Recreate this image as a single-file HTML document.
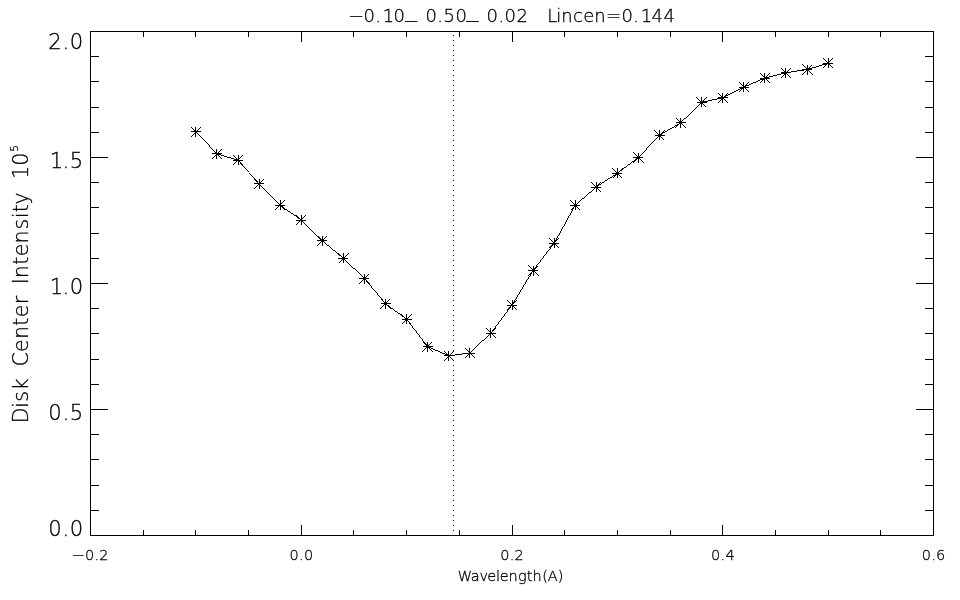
<!DOCTYPE html>
<html lang="en"><head><meta charset="utf-8"><title>Disk Center Intensity</title>
<style>html,body{margin:0;padding:0;background:#fff}body{width:960px;height:600px;overflow:hidden}#w{width:960px;height:600px;will-change:transform}svg{display:block}text{font-family:"DejaVu Sans Light","DejaVu Sans","Liberation Sans",sans-serif;font-weight:200;fill:#000;stroke:#000;stroke-width:.3px;text-anchor:middle;white-space:pre}.fl{fill:#000;stroke:none;shape-rendering:crispEdges}.ln{stroke:#000;stroke-width:1;fill:none;shape-rendering:crispEdges}</style></head><body><div id="w">
<svg width="960" height="600" viewBox="0 0 960 600">
<rect class="ln" x="90.5" y="31.5" width="843" height="504"/>
<path class="ln" d="M90.5 536 v-11 M90.5 31 v11 M143.5 536 v-6 M143.5 31 v6 M195.5 536 v-6 M195.5 31 v6 M248.5 536 v-6 M248.5 31 v6 M301.5 536 v-11 M301.5 31 v11 M353.5 536 v-6 M353.5 31 v6 M406.5 536 v-6 M406.5 31 v6 M459.5 536 v-6 M459.5 31 v6 M512.5 536 v-11 M512.5 31 v11 M564.5 536 v-6 M564.5 31 v6 M617.5 536 v-6 M617.5 31 v6 M670.5 536 v-6 M670.5 31 v6 M722.5 536 v-11 M722.5 31 v11 M775.5 536 v-6 M775.5 31 v6 M828.5 536 v-6 M828.5 31 v6 M880.5 536 v-6 M880.5 31 v6 M933.5 536 v-11 M933.5 31 v11 M90 31.5 h18 M934 31.5 h-18 M90 56.5 h9 M934 56.5 h-9 M90 81.5 h9 M934 81.5 h-9 M90 107.5 h9 M934 107.5 h-9 M90 132.5 h9 M934 132.5 h-9 M90 157.5 h18 M934 157.5 h-18 M90 182.5 h9 M934 182.5 h-9 M90 207.5 h9 M934 207.5 h-9 M90 233.5 h9 M934 233.5 h-9 M90 258.5 h9 M934 258.5 h-9 M90 283.5 h18 M934 283.5 h-18 M90 308.5 h9 M934 308.5 h-9 M90 333.5 h9 M934 333.5 h-9 M90 359.5 h9 M934 359.5 h-9 M90 384.5 h9 M934 384.5 h-9 M90 409.5 h18 M934 409.5 h-18 M90 434.5 h9 M934 434.5 h-9 M90 459.5 h9 M934 459.5 h-9 M90 485.5 h9 M934 485.5 h-9 M90 510.5 h9 M934 510.5 h-9 M90 535.5 h18 M934 535.5 h-18"/>
<path class="ln" stroke-dasharray="1 4" d="M453.5 536 V31"/>
<path class="fl" d="M196.38 131.70L217.45 153.80L216.45 153.80L195.38 131.70ZM216.95 153.30L238.03 159.70L238.03 160.70L216.95 154.30ZM238.53 160.20L259.60 183.80L258.60 183.80L237.53 160.20ZM259.60 183.80L280.67 205.30L279.67 205.30L258.60 183.80ZM280.17 204.80L301.25 219.50L301.25 220.50L280.17 205.80ZM301.25 219.50L322.32 240.30L322.32 241.30L301.25 220.50ZM322.32 240.30L343.40 257.80L343.40 258.80L322.32 241.30ZM343.40 257.80L364.48 278.00L364.48 279.00L343.40 258.80ZM364.98 278.50L386.05 303.70L385.05 303.70L363.98 278.50ZM385.55 303.20L406.63 318.70L406.63 319.70L385.55 304.20ZM407.13 319.20L428.20 346.70L427.20 346.70L406.13 319.20ZM427.70 346.20L448.77 355.30L448.77 356.30L427.70 347.20ZM448.77 355.30L469.85 352.50L469.85 353.50L448.77 356.30ZM469.85 352.50L490.92 332.50L490.92 333.50L469.85 353.50ZM490.42 333.00L511.50 305.20L512.50 305.20L491.42 333.00ZM511.50 305.20L532.58 270.50L533.58 270.50L512.50 305.20ZM532.58 270.50L553.65 243.30L554.65 243.30L533.58 270.50ZM553.65 243.30L574.72 205.30L575.72 205.30L554.65 243.30ZM575.22 204.80L596.30 186.50L596.30 187.50L575.22 205.80ZM596.30 186.50L617.38 172.70L617.38 173.70L596.30 187.50ZM617.38 172.70L638.45 157.00L638.45 158.00L617.38 173.70ZM637.95 157.50L659.03 135.30L660.03 135.30L638.95 157.50ZM659.53 134.80L680.60 122.30L680.60 123.30L659.53 135.80ZM680.60 122.30L701.68 101.80L701.68 102.80L680.60 123.30ZM701.68 101.80L722.75 97.30L722.75 98.30L701.68 102.80ZM722.75 97.30L743.83 86.60L743.83 87.60L722.75 98.30ZM743.83 86.60L764.90 77.50L764.90 78.50L743.83 87.60ZM764.90 77.50L785.98 72.30L785.98 73.30L764.90 78.50ZM785.98 72.30L807.05 69.00L807.05 70.00L785.98 73.30ZM807.05 69.00L828.12 62.80L828.12 63.80L807.05 70.00Z"/>
<path class="fl" d="M190.88 131.20L200.88 131.20L200.88 132.20L190.88 132.20ZM196.38 126.70L196.38 136.70L195.38 136.70L195.38 126.70ZM191.38 126.69L201.38 136.70L200.38 136.70L190.38 126.69ZM190.38 136.71L200.38 126.70L201.38 126.70L191.38 136.71ZM211.95 153.30L221.95 153.30L221.95 154.30L211.95 154.30ZM217.45 148.80L217.45 158.80L216.45 158.80L216.45 148.80ZM212.45 148.79L222.45 158.80L221.45 158.80L211.45 148.79ZM211.45 158.81L221.45 148.80L222.45 148.80L212.45 158.81ZM233.03 159.70L243.03 159.70L243.03 160.70L233.03 160.70ZM238.53 155.20L238.53 165.20L237.53 165.20L237.53 155.20ZM233.53 155.19L243.53 165.20L242.53 165.20L232.53 155.19ZM232.53 165.21L242.53 155.20L243.53 155.20L233.53 165.21ZM254.10 183.30L264.10 183.30L264.10 184.30L254.10 184.30ZM259.60 178.80L259.60 188.80L258.60 188.80L258.60 178.80ZM254.60 178.79L264.60 188.80L263.60 188.80L253.60 178.79ZM253.60 188.81L263.60 178.80L264.60 178.80L254.60 188.81ZM275.17 204.80L285.17 204.80L285.17 205.80L275.17 205.80ZM280.67 200.30L280.67 210.30L279.67 210.30L279.67 200.30ZM275.67 200.29L285.67 210.30L284.67 210.30L274.67 200.29ZM274.67 210.31L284.67 200.30L285.67 200.30L275.67 210.31ZM296.25 219.50L306.25 219.50L306.25 220.50L296.25 220.50ZM301.75 215.00L301.75 225.00L300.75 225.00L300.75 215.00ZM296.75 214.99L306.75 225.00L305.75 225.00L295.75 214.99ZM295.75 225.01L305.75 215.00L306.75 215.00L296.75 225.01ZM317.32 240.30L327.32 240.30L327.32 241.30L317.32 241.30ZM322.82 235.80L322.82 245.80L321.82 245.80L321.82 235.80ZM317.82 235.79L327.82 245.80L326.82 245.80L316.82 235.79ZM316.82 245.81L326.82 235.80L327.82 235.80L317.82 245.81ZM338.40 257.80L348.40 257.80L348.40 258.80L338.40 258.80ZM343.90 253.30L343.90 263.30L342.90 263.30L342.90 253.30ZM338.90 253.29L348.90 263.30L347.90 263.30L337.90 253.29ZM337.90 263.31L347.90 253.30L348.90 253.30L338.90 263.31ZM359.48 278.00L369.48 278.00L369.48 279.00L359.48 279.00ZM364.98 273.50L364.98 283.50L363.98 283.50L363.98 273.50ZM359.98 273.49L369.98 283.50L368.98 283.50L358.98 273.49ZM358.98 283.51L368.98 273.50L369.98 273.50L359.98 283.51ZM380.55 303.20L390.55 303.20L390.55 304.20L380.55 304.20ZM386.05 298.70L386.05 308.70L385.05 308.70L385.05 298.70ZM381.05 298.69L391.05 308.70L390.05 308.70L380.05 298.69ZM380.05 308.71L390.05 298.70L391.05 298.70L381.05 308.71ZM401.63 318.70L411.63 318.70L411.63 319.70L401.63 319.70ZM407.13 314.20L407.13 324.20L406.13 324.20L406.13 314.20ZM402.13 314.19L412.13 324.20L411.13 324.20L401.13 314.19ZM401.13 324.21L411.13 314.20L412.13 314.20L402.13 324.21ZM422.70 346.20L432.70 346.20L432.70 347.20L422.70 347.20ZM428.20 341.70L428.20 351.70L427.20 351.70L427.20 341.70ZM423.20 341.69L433.20 351.70L432.20 351.70L422.20 341.69ZM422.20 351.71L432.20 341.70L433.20 341.70L423.20 351.71ZM443.77 355.30L453.77 355.30L453.77 356.30L443.77 356.30ZM449.27 350.80L449.27 360.80L448.27 360.80L448.27 350.80ZM444.27 350.79L454.27 360.80L453.27 360.80L443.27 350.79ZM443.27 360.81L453.27 350.80L454.27 350.80L444.27 360.81ZM464.85 352.50L474.85 352.50L474.85 353.50L464.85 353.50ZM470.35 348.00L470.35 358.00L469.35 358.00L469.35 348.00ZM465.35 347.99L475.35 358.00L474.35 358.00L464.35 347.99ZM464.35 358.01L474.35 348.00L475.35 348.00L465.35 358.01ZM485.92 332.50L495.92 332.50L495.92 333.50L485.92 333.50ZM491.42 328.00L491.42 338.00L490.42 338.00L490.42 328.00ZM486.42 327.99L496.42 338.00L495.42 338.00L485.42 327.99ZM485.42 338.01L495.42 328.00L496.42 328.00L486.42 338.01ZM507.00 304.70L517.00 304.70L517.00 305.70L507.00 305.70ZM512.50 300.20L512.50 310.20L511.50 310.20L511.50 300.20ZM507.50 300.19L517.50 310.20L516.50 310.20L506.50 300.19ZM506.50 310.21L516.50 300.20L517.50 300.20L507.50 310.21ZM528.08 270.00L538.08 270.00L538.08 271.00L528.08 271.00ZM533.58 265.50L533.58 275.50L532.58 275.50L532.58 265.50ZM528.58 265.49L538.58 275.50L537.58 275.50L527.58 265.49ZM527.58 275.51L537.58 265.50L538.58 265.50L528.58 275.51ZM549.15 242.80L559.15 242.80L559.15 243.80L549.15 243.80ZM554.65 238.30L554.65 248.30L553.65 248.30L553.65 238.30ZM549.65 238.29L559.65 248.30L558.65 248.30L548.65 238.29ZM548.65 248.31L558.65 238.30L559.65 238.30L549.65 248.31ZM570.22 204.80L580.22 204.80L580.22 205.80L570.22 205.80ZM575.72 200.30L575.72 210.30L574.72 210.30L574.72 200.30ZM570.72 200.29L580.72 210.30L579.72 210.30L569.72 200.29ZM569.72 210.31L579.72 200.30L580.72 200.30L570.72 210.31ZM591.30 186.50L601.30 186.50L601.30 187.50L591.30 187.50ZM596.80 182.00L596.80 192.00L595.80 192.00L595.80 182.00ZM591.80 181.99L601.80 192.00L600.80 192.00L590.80 181.99ZM590.80 192.01L600.80 182.00L601.80 182.00L591.80 192.01ZM612.38 172.70L622.38 172.70L622.38 173.70L612.38 173.70ZM617.88 168.20L617.88 178.20L616.88 178.20L616.88 168.20ZM612.88 168.19L622.88 178.20L621.88 178.20L611.88 168.19ZM611.88 178.21L621.88 168.20L622.88 168.20L612.88 178.21ZM633.45 157.00L643.45 157.00L643.45 158.00L633.45 158.00ZM638.95 152.50L638.95 162.50L637.95 162.50L637.95 152.50ZM633.95 152.49L643.95 162.50L642.95 162.50L632.95 152.49ZM632.95 162.51L642.95 152.50L643.95 152.50L633.95 162.51ZM654.53 134.80L664.53 134.80L664.53 135.80L654.53 135.80ZM660.03 130.30L660.03 140.30L659.03 140.30L659.03 130.30ZM655.03 130.29L665.03 140.30L664.03 140.30L654.03 130.29ZM654.03 140.31L664.03 130.30L665.03 130.30L655.03 140.31ZM675.60 122.30L685.60 122.30L685.60 123.30L675.60 123.30ZM681.10 117.80L681.10 127.80L680.10 127.80L680.10 117.80ZM676.10 117.79L686.10 127.80L685.10 127.80L675.10 117.79ZM675.10 127.81L685.10 117.80L686.10 117.80L676.10 127.81ZM696.68 101.80L706.68 101.80L706.68 102.80L696.68 102.80ZM702.18 97.30L702.18 107.30L701.18 107.30L701.18 97.30ZM697.18 97.29L707.18 107.30L706.18 107.30L696.18 97.29ZM696.18 107.31L706.18 97.30L707.18 97.30L697.18 107.31ZM717.75 97.30L727.75 97.30L727.75 98.30L717.75 98.30ZM723.25 92.80L723.25 102.80L722.25 102.80L722.25 92.80ZM718.25 92.79L728.25 102.80L727.25 102.80L717.25 92.79ZM717.25 102.81L727.25 92.80L728.25 92.80L718.25 102.81ZM738.83 86.60L748.83 86.60L748.83 87.60L738.83 87.60ZM744.33 82.10L744.33 92.10L743.33 92.10L743.33 82.10ZM739.33 82.09L749.33 92.10L748.33 92.10L738.33 82.09ZM738.33 92.11L748.33 82.10L749.33 82.10L739.33 92.11ZM759.90 77.50L769.90 77.50L769.90 78.50L759.90 78.50ZM765.40 73.00L765.40 83.00L764.40 83.00L764.40 73.00ZM760.40 72.99L770.40 83.00L769.40 83.00L759.40 72.99ZM759.40 83.01L769.40 73.00L770.40 73.00L760.40 83.01ZM780.98 72.30L790.98 72.30L790.98 73.30L780.98 73.30ZM786.48 67.80L786.48 77.80L785.48 77.80L785.48 67.80ZM781.48 67.79L791.48 77.80L790.48 77.80L780.48 67.79ZM780.48 77.81L790.48 67.80L791.48 67.80L781.48 77.81ZM802.05 69.00L812.05 69.00L812.05 70.00L802.05 70.00ZM807.55 64.50L807.55 74.50L806.55 74.50L806.55 64.50ZM802.55 64.49L812.55 74.50L811.55 74.50L801.55 64.49ZM801.55 74.51L811.55 64.50L812.55 64.50L802.55 74.51ZM823.12 62.80L833.12 62.80L833.12 63.80L823.12 63.80ZM828.62 58.30L828.62 68.30L827.62 68.30L827.62 58.30ZM823.62 58.29L833.62 68.30L832.62 68.30L822.62 58.29ZM822.62 68.31L832.62 58.30L833.62 58.30L823.62 68.31Z"/>
<text transform="translate(356.1 21.2) scale(2.43 1)" font-size="17.97">-</text>
<text x="369.2 378.2 388.4 399.2" y="22.0" font-size="17.97">0.10</text>
<text x="411.0" y="16.0" font-size="23.5">_</text>
<text x="431.1 440.1 449.1 461.1" y="22.0" font-size="17.97">0.50</text>
<text x="472.3" y="16.0" font-size="23.5">_</text>
<text x="492.3 501.3 510.3 522.3" y="22.0" font-size="17.97">0.02</text>
<text x="552.2 558.8 566.9 578.0 588.8 599.9 613.4 627.2 636.2 646.4 657.2 669.2" y="22.0" font-size="17.97">Lincen=0.144</text>
<text x="55.1 65.8 76.4" y="49.0" font-size="21.14">2.0</text>
<text x="56.5 65.8 76.4" y="168.0" font-size="21.14">1.5</text>
<text x="56.5 65.8 76.4" y="294.0" font-size="21.14">1.0</text>
<text x="55.1 65.8 76.4" y="420.0" font-size="21.14">0.5</text>
<text x="55.1 65.8 76.4" y="536.0" font-size="21.14">0.0</text>
<text transform="translate(78.5 559.3) scale(2.45 1)" font-size="14.51">-</text>
<text x="89.5 96.7 103.9" y="560.0" font-size="14.51">0.2</text>
<text x="294.1 301.2 308.5" y="560.0" font-size="14.51">0.0</text>
<text x="504.8 512.0 519.2" y="560.0" font-size="14.51">0.2</text>
<text x="715.6 722.8 730.0" y="560.0" font-size="14.51">0.4</text>
<text x="926.3 933.5 940.7" y="560.0" font-size="14.51">0.6</text>
<text x="464.9 475.3 483.7 491.8 498.1 504.3 513.2 522.3 529.7 537.2 545.1 552.8 560.5" y="581.0" font-size="14.51">Wavelength(A)</text>
<text transform="translate(28 422.8) rotate(-90)" font-size="20.58"><tspan x="7.4 17.7 26.5 38.6 50.3 63.4 77.2 90.3 101.2 111.9 122.8 133.1 141.6 151.2 162.1 172.8 185.8 198.6 207.4 214.5 224.4 235.8 250.7 263.5" y="0">Disk Center Intensity 10</tspan><tspan x="274.4" y="-10.5" font-size="10.70">5</tspan></text>
</svg></div></body></html>
